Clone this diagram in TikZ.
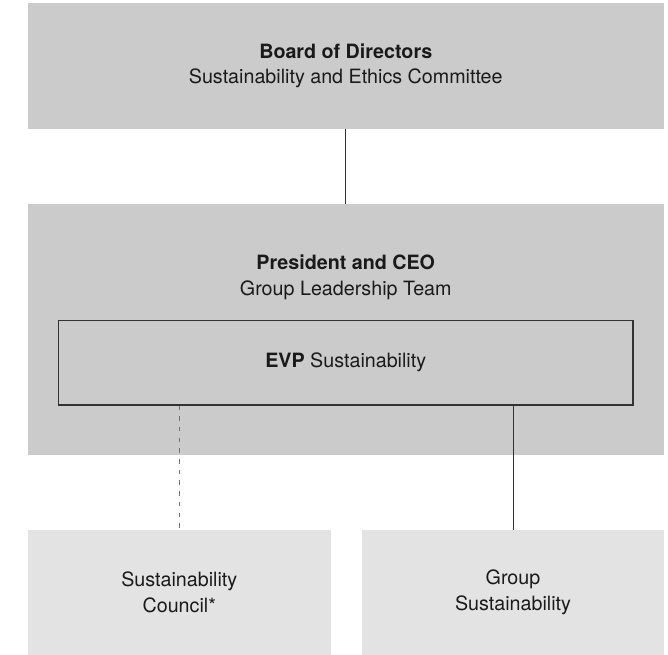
\documentclass[tikz,border=0pt]{standalone}
\usepackage{fontspec}
\setmainfont{TeX Gyre Heros}
\usetikzlibrary{positioning, calc}
\definecolor{boxgray}{RGB}{203, 203, 204}
\definecolor{lightgray}{RGB}{227, 227, 227}
\definecolor{linegray}{RGB}{51, 51, 51}
\definecolor{dashgray}{RGB}{115, 115, 115}
\definecolor{textdark}{RGB}{26, 26, 26}

\begin{document}
\begin{tikzpicture}[x=1pt, y=1pt,
      tierbox/.style={fill=#1, draw=none, inner sep=0pt},
      evpbox/.style={draw=linegray, line width=1.3pt, fill=boxgray, minimum width=574.7pt, minimum height=84.5pt, inner sep=0pt, font=\fontsize{19.7}{25.5}\selectfont, text=textdark},
      labeltext/.style={align=center, font=\fontsize{19.7}{25.5}\selectfont, text=textdark, inner sep=0pt},
      linkline/.style={linegray, line width=0.9pt},
      dashline/.style={dashgray, line width=1.4pt, dash pattern=on 4.5pt off 6.2pt}
    ]
      \useasboundingbox (0,0) rectangle (668,654);
      \node [tierbox=boxgray, minimum width=636.5pt, minimum height=125.7pt] (board) at (345.75, 588.15) {};
      \node [labeltext] (boardtext) at (board) {\textbf{Board of Directors}\\Sustainability and Ethics Committee};
      \node [tierbox=boxgray, minimum width=636.5pt, minimum height=250.5pt, below=75.3pt of board] (ceo) {};
      \node [labeltext, below=73pt of ceo.north, anchor=center] (ceotext) {\textbf{President and CEO}\\Group Leadership Team};
      \node [evpbox, below=115.5pt of ceo.north] (evp) {\textbf{EVP} Sustainability};
      \node [tierbox=lightgray, minimum width=303.5pt, minimum height=125pt, below=74.5pt of ceo.south west, anchor=north west] (council) {};
      \node [labeltext] (counciltext) at (council) {Sustainability\\Council*};
      \node [tierbox=lightgray, minimum width=302pt, minimum height=125pt, below=74.5pt of ceo.south east, anchor=north east] (groupsus) {};
      \node [labeltext] (groupsustext) at (groupsus) {Group\\Sustainability};

      \draw [linkline] (board.south) -- (ceo.north);
      \draw [dashline] (evp.south -| council) -- (council.north);
      \draw [linkline] (evp.south -| groupsus) -- (groupsus.north);
    \end{tikzpicture}
\end{document}
